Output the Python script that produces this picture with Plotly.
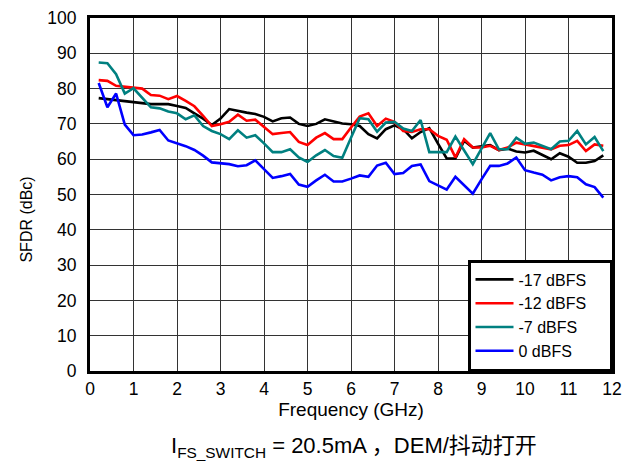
import plotly.graph_objects as go

# frequency points (GHz)
freq = [0.2, 0.4, 0.6, 0.8, 1.0, 1.2, 1.4, 1.6, 1.8, 2.0,
        2.2, 2.4, 2.6, 2.8, 3.0, 3.2, 3.4, 3.6, 3.8, 4.0,
        4.2, 4.4, 4.6, 4.8, 5.0, 5.2, 5.4, 5.6, 5.8, 6.0,
        6.2, 6.4, 6.6, 6.8, 7.0, 7.2, 7.4, 7.6, 7.8, 8.0,
        8.2, 8.4, 8.6, 8.8, 9.0, 9.2, 9.4, 9.6, 9.8, 10.0,
        10.2, 10.4, 10.6, 10.8, 11.0, 11.2, 11.4, 11.6, 11.8]

sfdr_m17 = [77.3, 77.0, 76.8, 76.5, 76.1, 76.0, 75.6, 75.6, 75.6, 75.1,
            74.5, 73.0, 71.5, 69.7, 71.5, 74.2, 73.6, 73.2, 72.8, 72.0,
            70.7, 71.6, 71.8, 70.0, 69.4, 70.0, 71.3, 70.7, 70.1, 69.9,
            69.4, 67.1, 65.9, 68.5, 69.6, 68.5, 65.9, 67.7, 68.8, 64.4,
            60.2, 60.2, 65.2, 63.3, 63.6, 64.0, 62.6, 63.0, 62.2, 61.9,
            62.4, 61.1, 60.0, 61.7, 60.7, 59.0, 59.0, 59.5, 61.1]

sfdr_m12 = [82.4, 82.2, 80.8, 80.6, 80.3, 80.0, 78.2, 78.0, 77.0, 77.9,
            76.5, 75.0, 72.3, 69.4, 69.9, 70.6, 72.6, 70.9, 71.2, 69.1,
            67.1, 67.4, 67.7, 64.9, 64.0, 66.1, 67.4, 65.7, 65.7, 69.0,
            72.1, 73.0, 69.4, 71.5, 70.6, 68.0, 67.7, 68.5, 68.5, 66.6,
            65.5, 60.5, 65.7, 63.3, 63.3, 63.8, 62.6, 63.3, 64.7, 64.2,
            63.8, 63.3, 62.8, 63.8, 64.0, 65.2, 62.3, 64.2, 63.8]

sfdr_m7 = [87.4, 87.2, 84.1, 78.6, 80.1, 77.5, 74.7, 74.4, 73.5, 73.0,
           71.3, 72.4, 69.4, 68.0, 67.1, 65.7, 68.2, 66.1, 66.8, 64.5,
           62.0, 62.0, 62.8, 60.5, 59.2, 61.1, 62.6, 60.9, 60.4, 66.1,
           71.6, 71.3, 67.8, 70.4, 70.6, 68.7, 68.0, 71.1, 62.0, 62.0,
           62.0, 66.4, 62.5, 58.6, 63.0, 67.4, 62.8, 62.8, 66.1, 64.4,
           64.7, 63.8, 62.8, 65.0, 65.2, 68.0, 64.2, 66.3, 62.3]

sfdr_0 = [81.6, 74.7, 78.6, 69.8, 66.8, 67.0, 67.6, 68.3, 65.3, 64.5,
          63.7, 62.6, 61.0, 59.1, 58.9, 58.6, 58.0, 58.3, 59.7, 57.2,
          54.7, 55.2, 55.8, 52.8, 52.2, 54.0, 55.6, 53.7, 53.7, 54.5,
          55.4, 55.0, 58.2, 59.0, 55.8, 56.1, 58.1, 58.5, 53.8, 52.6,
          51.4, 55.0, 52.6, 50.2, 54.3, 58.1, 58.1, 58.8, 60.5, 56.9,
          56.2, 55.6, 54.0, 54.9, 55.2, 54.9, 52.9, 52.1, 49.1]

names = ["-17 dBFS", "-12 dBFS", "-7 dBFS", "0 dBFS"]
colors = ["#000000", "#ff0000", "#008080", "#0000ff"]
series = [sfdr_m17, sfdr_m12, sfdr_m7, sfdr_0]

font_family = "Arial, Liberation Sans, Noto Sans CJK SC, sans-serif"
pad = "\u00a0" * 4  # widen legend box a bit

fig = go.Figure()
for name, color, vals in zip(names, colors, series):
    fig.add_trace(go.Scatter(x=freq, y=vals, mode="lines", name=name + pad,
                             line=dict(color=color, width=2.6)))

# page body adds ~8px offset, margins compensate
fig.update_layout(
    width=641, height=466,
    margin=dict(l=82, r=37, t=10, b=103, autoexpand=False),
    plot_bgcolor="white", paper_bgcolor="white",
    font=dict(family=font_family, size=17.5, color="black"),
    showlegend=True,
    legend=dict(x=1, y=0, xanchor="right", yanchor="bottom",
                bgcolor="white", bordercolor="black", borderwidth=2.5,
                font=dict(size=16), tracegroupgap=0,
                itemwidth=38),
)

fig.update_xaxes(range=[0, 12], dtick=1, tick0=0,
                 showgrid=True, gridcolor="#333333", gridwidth=1.3,
                 showline=True, linecolor="black", linewidth=3, mirror=True,
                 zeroline=False, ticks="", ticklabelstandoff=0,
                 title=dict(text="Frequency (GHz)", font=dict(size=19), standoff=4))
fig.update_yaxes(range=[0, 100], dtick=10, tick0=0,
                 showgrid=True, gridcolor="#333333", gridwidth=1.3,
                 showline=True, linecolor="black", linewidth=3, mirror=True,
                 zeroline=False, ticks="", ticklabelstandoff=7)

fig.add_annotation(xref="paper", yref="paper", x=-0.1207, y=0.429,
                   xanchor="center", yanchor="middle", showarrow=False,
                   textangle=-90, text="SFDR (dBc)",
                   font=dict(size=16, family=font_family))

fig.add_annotation(xref="paper", yref="paper", x=0.506, y=-0.214,
                   xanchor="center", yanchor="middle", showarrow=False,
                   text="I<sub>FS_SWITCH</sub> = 20.5mA ，DEM/抖动打开",
                   font=dict(size=22, family=font_family))

fig.write_html("out.html")
